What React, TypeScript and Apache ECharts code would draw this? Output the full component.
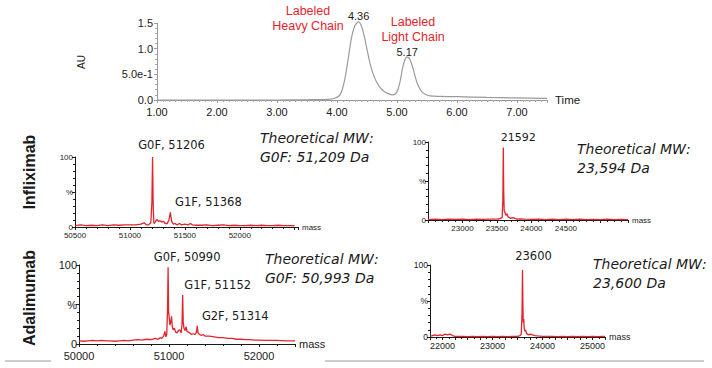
import React, { useEffect, useRef } from 'react';
import * as echarts from 'echarts';

// ---------- data ----------
const chromTime = [1.0, 1.5, 2.0, 2.5, 3.0, 3.5, 3.8, 3.95, 4.05, 4.12, 4.18, 4.24, 4.3, 4.36, 4.42, 4.48, 4.55, 4.62, 4.7, 4.78, 4.86, 4.93, 4.99, 5.04, 5.09, 5.13, 5.17, 5.22, 5.27, 5.33, 5.4, 5.47, 5.55, 5.7, 6.0, 6.5, 7.0, 7.5];
const chromAU = [0.0, 0.0, 0.0, 0.0, 0.0, 0.005, 0.01, 0.03, 0.1, 0.35, 0.75, 1.2, 1.45, 1.52, 1.4, 1.1, 0.72, 0.45, 0.27, 0.17, 0.12, 0.1, 0.14, 0.3, 0.6, 0.78, 0.84, 0.78, 0.6, 0.35, 0.18, 0.11, 0.08, 0.07, 0.065, 0.05, 0.04, 0.03];
const chromPeakTimes = [4.36, 5.17];
const chromPeakLabels = ['4.36', '5.17'];

const infHeavyMass = [50500, 50550, 50600, 50650, 50700, 50750, 50800, 50850, 50900, 50950, 51000, 51050, 51100, 51130, 51150, 51170, 51190, 51200, 51206, 51212, 51218, 51230, 51245, 51260, 51275, 51290, 51305, 51320, 51340, 51355, 51368, 51380, 51395, 51410, 51430, 51450, 51470, 51500, 51530, 51550, 51570, 51600, 51650, 51700, 51750, 51800, 51850, 51900, 51950, 52000, 52050, 52100, 52150, 52200, 52250, 52300, 52350, 52400, 52450, 52500];
const infHeavyInt = [2, 3, 2, 2.5, 2, 3, 2, 3, 2.5, 3, 3, 3, 4, 6, 3, 3, 6, 35, 100, 30, 5, 7, 11, 8, 9, 7, 8, 5, 5, 10, 21, 8, 4, 5, 3, 5, 3, 4, 3, 5, 3, 2.5, 2.5, 3, 2, 2.5, 3, 2, 2.5, 2, 2, 2.5, 2, 2.5, 2, 2, 2.5, 2, 2, 2];
const infHeavyPeaks = [51206, 51368];
const infHeavyLabels = ['G0F, 51206', 'G1F, 51368'];

const infLightMass = [22500, 22600, 22700, 22800, 22900, 23000, 23100, 23200, 23300, 23400, 23500, 23550, 23575, 23585, 23592, 23598, 23605, 23615, 23630, 23645, 23660, 23680, 23700, 23730, 23760, 23790, 23830, 23900, 24000, 24100, 24200, 24300, 24400, 24500, 24600, 24700, 24800, 24900, 25000, 25100, 25200, 25300, 25400];
const infLightInt = [0.5, 1, 0.5, 1, 0.8, 1, 0.5, 1, 0.8, 1, 1.2, 2, 3, 25, 93, 35, 12, 10, 6, 8, 4, 3, 2, 3, 2, 1, 1.5, 1, 0.8, 1, 0.5, 1, 0.5, 1, 0.5, 1, 0.5, 0.8, 0.5, 1, 0.5, 0.8, 0.5];
const infLightPeaks = [23592];
const infLightLabels = ['21592'];

const adaHeavyMass = [50000, 50050, 50100, 50150, 50200, 50250, 50300, 50350, 50400, 50450, 50500, 50550, 50600, 50650, 50700, 50750, 50800, 50850, 50880, 50900, 50920, 50940, 50955, 50965, 50975, 50984, 50990, 50996, 51003, 51010, 51020, 51028, 51036, 51046, 51060, 51075, 51090, 51105, 51120, 51135, 51145, 51152, 51158, 51166, 51180, 51190, 51200, 51215, 51230, 51250, 51270, 51290, 51305, 51314, 51322, 51340, 51360, 51380, 51400, 51450, 51500, 51550, 51600, 51650, 51700, 51750, 51800, 51850, 51900, 51950, 52000, 52100, 52200, 52300, 52400];
const adaHeavyInt = [4, 3.5, 4, 4.5, 4, 4.5, 4, 4, 3.5, 4, 4.5, 4, 5, 5.5, 5, 6, 5.5, 7, 6, 8, 7, 10, 16, 9, 12, 45, 97, 40, 33, 24, 28, 35, 22, 18, 20, 15, 14, 17, 18, 14, 25, 62, 28, 20, 17, 22, 16, 15, 14, 12, 13, 12, 15, 23, 14, 12, 11, 12, 10, 10, 9, 8, 8, 7, 7, 6, 6, 5.5, 5.5, 5, 5, 4.5, 4.5, 4, 4];
const adaHeavyPeaks = [50990, 51152, 51314];
const adaHeavyLabels = ['G0F, 50990', 'G1F, 51152', 'G2F, 51314'];

const adaLightMass = [21750, 21800, 21850, 21900, 21950, 22000, 22050, 22100, 22150, 22200, 22250, 22300, 22400, 22500, 22600, 22700, 22800, 22900, 23000, 23100, 23200, 23300, 23400, 23500, 23550, 23575, 23590, 23600, 23608, 23615, 23625, 23635, 23645, 23660, 23680, 23700, 23730, 23760, 23800, 23850, 23900, 24000, 24100, 24200, 24300, 24400, 24500, 24600, 24700, 24800, 24900, 25000, 25100, 25200, 25250];
const adaLightInt = [1, 2, 3, 2, 3, 2, 4, 3, 4, 2, 1, 1, 1, 0.5, 1, 0.5, 1, 0.5, 1, 0.5, 1, 0.5, 1, 1, 2, 4, 30, 93, 45, 20, 25, 12, 8, 10, 5, 4, 3, 4, 3, 2, 1.5, 1, 0.8, 1, 0.5, 1, 0.5, 1, 0.5, 1, 0.5, 1, 0.5, 1, 0.8];
const adaLightPeaks = [23600];
const adaLightLabels = ['23600'];

const rowLabels = ['Infliximab', 'Adalimumab'];
const theoInfHeavy = ['Theoretical MW:', 'G0F: 51,209 Da'];
const theoInfLight = ['Theoretical MW:', '23,594 Da'];
const theoAdaHeavy = ['Theoretical MW:', 'G0F: 50,993 Da'];
const theoAdaLight = ['Theoretical MW:', '23,600 Da'];
const chainLabels = [['Labeled', 'Heavy Chain'], ['Labeled', 'Light Chain']];

// ---------- styling ----------
const AX = "'Liberation Sans', Arial, sans-serif";
const VD = "'DejaVu Sans', Verdana, sans-serif";
const RED = '#e3242b';
const INK = '#1a1a1a';
const TOP_MAX = 1.5;

const zip = (a: number[], b: number[]) => a.map((x, i) => [x, b[i]]);

function peakMarks(xs: number[], ys: number[], peaks: number[], labels: string[], offsets: number[][], yMax = Infinity) {
  return peaks.map((p, i) => ({
    name: labels[i],
    coord: [p, Math.min(ys[xs.indexOf(p)], yMax)],
    label: { offset: offsets[i] },
  }));
}

function panelX(gridIndex: number, min: number, max: number, interval: number, minorSplit: number, fs: number, margin: number, show: (v: number) => boolean) {
  return {
    type: 'value', gridIndex, min, max, interval,
    axisLine: { show: true, onZero: false, lineStyle: { color: INK, width: 1 } },
    axisTick: { show: true, length: 3, lineStyle: { color: INK } },
    minorTick: { show: true, splitNumber: minorSplit, length: 2, lineStyle: { color: INK } },
    splitLine: { show: false }, minorSplitLine: { show: false },
    axisLabel: { fontSize: fs, color: INK, fontFamily: AX, margin, formatter: (v: number) => (show(v) ? String(v) : '') },
    name: 'mass', nameLocation: 'end', nameGap: 4,
    nameTextStyle: { fontSize: fs, color: INK, fontFamily: AX, verticalAlign: 'middle', align: 'left' },
  };
}

function panelY(gridIndex: number, fs: number) {
  return {
    type: 'value', gridIndex, min: 0, max: 100, interval: 50,
    axisLine: { show: true, onZero: false, lineStyle: { color: INK, width: 1 } },
    axisTick: { show: true, length: 3, lineStyle: { color: INK } },
    minorTick: { show: true, splitNumber: 5, length: 2, lineStyle: { color: INK } },
    splitLine: { show: false },
    axisLabel: { fontSize: fs, color: INK, fontFamily: AX, margin: 2, formatter: (v: number) => (v === 50 ? '%' : String(v)) },
  };
}

function spectrum(idx: number, xs: number[], ys: number[], peaks: number[], labels: string[], offsets: number[][], fs: number) {
  return {
    type: 'line', xAxisIndex: idx, yAxisIndex: idx, data: zip(xs, ys),
    showSymbol: false, symbol: 'none', silent: true,
    lineStyle: { color: RED, width: 1.3 },
    markPoint: {
      symbol: 'circle', symbolSize: 0, silent: true,
      label: { show: true, position: 'top', distance: 4, formatter: '{b}', color: INK, fontSize: fs, fontFamily: VD },
      data: peakMarks(xs, ys, peaks, labels, offsets),
    },
  };
}

function txt(text: string, x: number, y: number, extra: any = {}) {
  return {
    type: 'text', x, y, silent: true,
    style: { text, fill: INK, fontSize: 14, fontFamily: VD, align: 'left', verticalAlign: 'middle', ...extra },
  };
}

function buildOption() {
  const grids = [
    { left: 157, top: 23, width: 390, height: 77 },
    { left: 75, top: 157, width: 223, height: 70 },
    { left: 428, top: 142, width: 200, height: 78 },
    { left: 79, top: 265, width: 216, height: 79 },
    { left: 430, top: 265, width: 175, height: 72 },
  ].map((g) => ({ ...g, containLabel: false, outerBoundsMode: 'none' }));

  const topX = {
    type: 'value', gridIndex: 0, min: 1, max: 7.5, interval: 1,
    axisLine: { show: true, onZero: false, lineStyle: { color: '#9a9a9a' } },
    axisTick: { show: true, length: 3, lineStyle: { color: '#9a9a9a' } },
    minorTick: { show: true, splitNumber: 10, length: 2, lineStyle: { color: '#aaaaaa' } },
    splitLine: { show: false },
    axisLabel: { fontSize: 11, color: INK, fontFamily: AX, margin: 6, formatter: (v: number) => (Math.abs(v - Math.round(v)) < 1e-6 ? v.toFixed(2) : '') },
    name: 'Time', nameLocation: 'end', nameGap: 8,
    nameTextStyle: { fontSize: 11.5, color: INK, fontFamily: AX, verticalAlign: 'middle' },
  };
  const topY = {
    type: 'value', gridIndex: 0, min: 0, max: TOP_MAX, interval: 0.5,
    axisLine: { show: true, onZero: false, lineStyle: { color: '#9a9a9a' } },
    axisTick: { show: true, length: 3, lineStyle: { color: '#9a9a9a' } },
    minorTick: { show: true, splitNumber: 5, length: 2, lineStyle: { color: '#aaaaaa' } },
    splitLine: { show: false },
    axisLabel: { fontSize: 11, color: INK, fontFamily: AX, margin: 4, formatter: (v: number) => (v === 0 ? '0.0' : v === 0.5 ? '5.0e-1' : v.toFixed(1)) },
  };

  const series: any[] = [
    {
      type: 'line', xAxisIndex: 0, yAxisIndex: 0, data: zip(chromTime, chromAU),
      showSymbol: false, symbol: 'none', smooth: 0.3, clip: false, silent: true,
      lineStyle: { color: '#9a9a9a', width: 1.2 },
      markPoint: {
        symbol: 'circle', symbolSize: 0, silent: true,
        label: { show: true, position: 'top', distance: 3, formatter: '{b}', color: INK, fontSize: 11, fontFamily: AX },
        data: peakMarks(chromTime, chromAU, chromPeakTimes, chromPeakLabels, [[0, 1], [0, 4]], TOP_MAX),
      },
    },
    spectrum(1, infHeavyMass, infHeavyInt, infHeavyPeaks, infHeavyLabels, [[19, -2], [38, 0]], 11.5),
    spectrum(2, infLightMass, infLightInt, infLightPeaks, infLightLabels, [[15, 0]], 11),
    spectrum(3, adaHeavyMass, adaHeavyInt, adaHeavyPeaks, adaHeavyLabels, [[19, 0], [35, 0], [38, 0]], 11.5),
    spectrum(4, adaLightMass, adaLightInt, adaLightPeaks, adaLightLabels, [[11, -4]], 11.5),
  ];

  const graphic: any[] = [
    txt(chainLabels[0][0], 308, 11, { fill: RED, fontSize: 12.5, fontFamily: AX, align: 'center' }),
    txt(chainLabels[0][1], 308, 26, { fill: RED, fontSize: 12.5, fontFamily: AX, align: 'center' }),
    txt(chainLabels[1][0], 413, 22, { fill: RED, fontSize: 12.5, fontFamily: AX, align: 'center' }),
    txt(chainLabels[1][1], 413, 37, { fill: RED, fontSize: 12.5, fontFamily: AX, align: 'center' }),
    { type: 'text', x: 81, y: 62, rotation: Math.PI / 2, silent: true, style: { text: 'AU', fill: INK, fontSize: 10, fontFamily: AX, align: 'center', verticalAlign: 'middle' } },
    { type: 'text', x: 29, y: 172, rotation: Math.PI / 2, silent: true, style: { text: rowLabels[0], fill: INK, fontSize: 16, fontWeight: 'bold', fontFamily: AX, align: 'center', verticalAlign: 'middle' } },
    { type: 'text', x: 29, y: 298, rotation: Math.PI / 2, silent: true, style: { text: rowLabels[1], fill: INK, fontSize: 16, fontWeight: 'bold', fontFamily: AX, align: 'center', verticalAlign: 'middle' } },
    txt(theoInfHeavy[0], 260, 138, { fontStyle: 'italic' }),
    txt(theoInfHeavy[1], 260, 157, { fontStyle: 'italic' }),
    txt(theoInfLight[0], 577, 149, { fontStyle: 'italic' }),
    txt(theoInfLight[1], 577, 168, { fontStyle: 'italic' }),
    txt(theoAdaHeavy[0], 265, 259, { fontStyle: 'italic' }),
    txt(theoAdaHeavy[1], 265, 278, { fontStyle: 'italic' }),
    txt(theoAdaLight[0], 593, 264, { fontStyle: 'italic' }),
    txt(theoAdaLight[1], 593, 283, { fontStyle: 'italic' }),
    { type: 'line', silent: true, shape: { x1: 5, y1: 361, x2: 51, y2: 361 }, style: { stroke: '#9a9a9a', lineWidth: 1 } },
    { type: 'line', silent: true, shape: { x1: 325, y1: 361, x2: 704, y2: 361 }, style: { stroke: '#9a9a9a', lineWidth: 1 } },
  ];

  return {
    animation: false,
    backgroundColor: '#ffffff',
    grid: grids,
    xAxis: [
      topX,
      panelX(1, 50500, 52530, 500, 5, 8, 4, (v) => v >= 50500 && v <= 52000 && v % 500 === 0),
      panelX(2, 22500, 25400, 500, 5, 8, 4, (v) => v >= 23000 && v <= 24500 && v % 500 === 0),
      panelX(3, 50000, 52400, 1000, 5, 11, 6, (v) => v <= 52000 && v % 1000 === 0),
      panelX(4, 21750, 25250, 250, 2, 9, 4, (v) => v % 1000 === 0),
    ],
    yAxis: [topY, panelY(1, 8), panelY(2, 8), panelY(3, 11), panelY(4, 8.5)],
    series,
    graphic,
  };
}

export default function App() {
  const ref = useRef<HTMLDivElement>(null);
  useEffect(() => {
    if (!ref.current) return;
    const chart = echarts.init(ref.current, null, { renderer: 'svg' });
    chart.setOption(buildOption() as any);
    return () => chart.dispose();
  }, []);
  return <div ref={ref} style={{ position: 'absolute', left: 0, top: 0, width: 712, height: 368, background: '#fff' }} />;
}
